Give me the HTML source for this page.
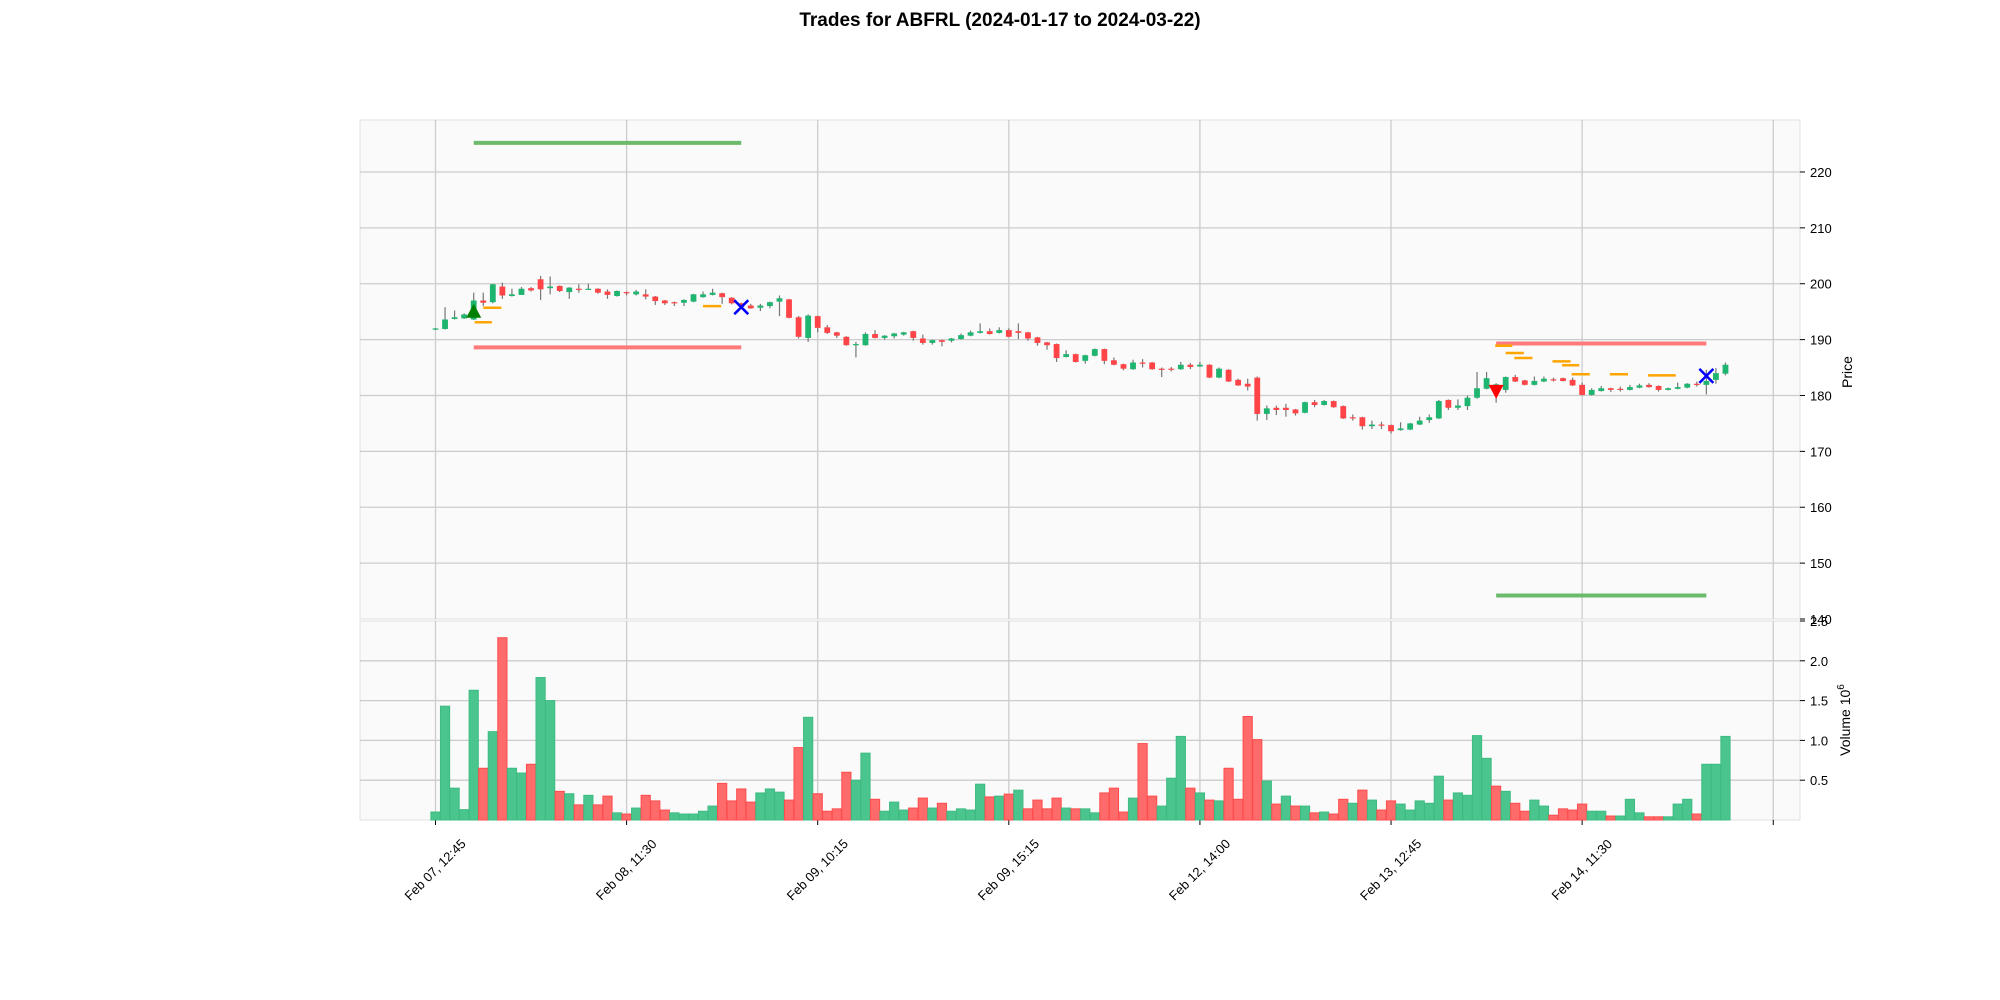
<!DOCTYPE html>
<html><head><meta charset="utf-8"><style>
html,body{margin:0;padding:0;background:#fff;}
svg{display:block;font-family:"Liberation Sans",sans-serif;}
</style></head><body>
<svg id="chart" width="2000" height="1000" viewBox="0 0 2000 1000" xmlns="http://www.w3.org/2000/svg">
<text x="1000" y="26" text-anchor="middle" font-size="19" font-weight="bold" fill="#000">Trades for ABFRL (2024-01-17 to 2024-03-22)</text>
<g id="g"></g>
</svg>
<script>
const opens=[191.8,191.9,193.7,193.8,193.6,197.0,196.7,199.5,197.8,198.0,199.2,200.8,199.2,199.6,198.5,199.1,199.0,199.1,198.6,197.8,198.5,198.1,198.1,197.7,197.0,196.7,196.6,196.8,197.6,198.0,198.3,197.5,196.5,196.1,195.7,196.0,196.8,197.2,194.0,190.3,194.2,192.2,191.3,190.5,189.1,189.0,191.0,190.3,190.6,190.9,191.5,190.2,189.4,189.9,189.8,190.1,190.7,191.2,191.5,191.2,191.7,191.5,191.3,190.4,189.5,189.2,186.9,187.4,186.2,187.1,188.3,186.3,185.6,184.7,185.9,185.9,184.8,184.8,184.7,185.5,185.2,185.5,183.2,184.6,182.8,182.1,183.2,176.7,177.8,177.8,177.5,176.9,178.8,178.3,179.0,178.1,176.1,176.1,174.5,174.8,174.7,173.8,173.9,174.8,175.6,175.9,179.2,177.8,178.1,179.6,181.2,180.5,181.0,183.3,182.7,181.9,182.5,182.9,183.1,182.8,181.9,180.1,180.8,181.3,181.2,181.0,181.4,181.9,181.7,181.0,181.2,181.4,182.1,181.9,182.8,183.9];
const closes=[192.0,193.6,194.0,194.5,197.0,196.6,199.9,197.9,198.1,199.1,198.8,199.0,199.5,198.7,199.3,199.0,199.1,198.4,198.0,198.7,198.4,198.6,197.7,196.9,196.5,196.6,197.1,198.1,198.1,198.4,197.6,196.5,195.9,195.6,196.1,196.7,197.4,193.9,190.5,194.3,192.1,191.2,190.7,189.0,189.2,191.0,190.3,190.7,191.1,191.3,190.3,189.4,189.9,189.6,190.2,190.8,191.3,191.5,191.0,191.7,190.5,191.2,190.2,189.4,189.0,186.7,187.4,186.0,187.2,188.3,186.2,185.5,184.8,185.9,185.8,184.7,184.7,184.7,185.5,185.1,185.5,183.2,184.8,182.5,181.8,181.6,176.7,177.7,177.4,177.4,176.8,178.8,178.3,179.0,177.9,175.9,176.0,174.5,174.8,174.7,173.6,174.1,175.0,175.5,176.1,179.0,177.8,178.2,179.6,181.3,183.1,182.0,183.3,182.5,181.9,182.6,183.0,182.8,182.6,181.8,180.1,181.0,181.3,181.0,181.1,181.5,181.8,181.5,181.0,181.3,181.5,182.1,182.0,182.6,184.0,185.5];
const highs=[192.1,195.8,195.2,194.7,198.4,198.4,200.0,200.2,199.1,199.4,199.4,201.4,201.3,199.7,199.4,199.9,200.0,199.2,199.0,198.8,198.6,198.9,199.0,197.8,197.1,196.8,197.2,198.2,198.6,199.1,198.4,197.6,196.6,196.4,196.4,196.8,197.9,197.3,194.2,194.5,194.3,192.6,191.4,190.6,189.6,191.3,191.7,190.8,191.2,191.4,191.6,190.9,190.0,190.0,190.3,191.1,191.6,192.9,192.0,192.2,192.0,192.9,191.4,190.5,189.6,189.3,188.1,187.5,187.3,188.4,188.4,186.8,185.7,186.4,186.5,186.0,185.0,185.1,186.0,185.8,186.0,185.6,185.0,184.7,183.0,183.0,183.4,178.2,178.2,178.5,177.6,178.9,179.2,179.2,179.1,178.2,176.6,176.2,175.5,175.3,174.8,175.2,175.1,176.2,176.6,179.2,179.3,179.3,180.0,184.2,184.2,182.2,183.4,183.7,182.8,183.4,183.4,183.2,183.2,183.2,182.3,181.3,181.7,181.4,181.6,181.9,182.1,182.2,181.8,181.4,182.3,182.2,182.5,184.6,184.9,185.9];
const lows=[191.7,191.8,193.6,193.7,193.5,196.0,196.5,197.3,197.7,198.0,198.6,197.1,198.1,198.5,197.3,198.4,198.9,198.2,197.3,197.7,197.9,197.9,197.2,196.2,196.2,196.0,196.0,196.7,197.5,197.9,196.4,196.3,195.7,195.5,195.1,195.6,194.2,193.8,190.2,189.6,191.3,191.0,190.3,188.9,186.8,188.9,190.2,190.0,190.2,190.7,189.8,189.1,189.1,188.8,189.5,190.0,190.6,191.1,190.9,191.1,190.4,190.1,189.8,188.9,188.2,186.0,186.8,185.9,185.7,187.0,185.6,185.4,184.5,184.6,185.0,184.6,183.3,184.3,184.6,184.7,185.1,183.1,183.1,182.4,181.7,180.9,175.5,175.6,176.5,176.2,176.4,176.8,177.9,178.2,177.8,175.8,175.5,173.9,174.0,174.0,173.2,173.7,173.8,174.7,175.1,175.8,177.4,177.4,177.4,179.4,181.1,178.7,180.5,182.4,181.8,181.8,182.4,182.5,182.5,181.7,180.0,180.0,180.7,180.6,180.7,180.9,181.3,181.4,180.7,180.9,181.1,181.3,181.6,180.2,182.1,183.6];
const volumes=[0.10,1.43,0.40,0.13,1.63,0.65,1.11,2.29,0.65,0.59,0.70,1.79,1.50,0.36,0.33,0.19,0.31,0.19,0.30,0.09,0.075,0.15,0.31,0.24,0.125,0.09,0.075,0.075,0.11,0.175,0.46,0.24,0.39,0.225,0.34,0.39,0.35,0.25,0.91,1.29,0.33,0.11,0.14,0.60,0.50,0.84,0.26,0.11,0.225,0.125,0.15,0.275,0.15,0.21,0.11,0.14,0.125,0.45,0.29,0.30,0.325,0.375,0.14,0.25,0.14,0.275,0.15,0.14,0.14,0.09,0.34,0.40,0.10,0.275,0.96,0.30,0.175,0.525,1.05,0.40,0.34,0.25,0.24,0.65,0.26,1.30,1.01,0.49,0.20,0.30,0.175,0.175,0.09,0.10,0.075,0.26,0.21,0.375,0.25,0.125,0.24,0.20,0.125,0.24,0.21,0.55,0.25,0.34,0.31,1.06,0.775,0.425,0.36,0.21,0.11,0.25,0.175,0.06,0.14,0.125,0.20,0.11,0.11,0.05,0.05,0.26,0.09,0.04,0.04,0.04,0.20,0.26,0.075,0.70,0.70,1.05];
const tickIdx=[0,20,40,60,80,100,120,140];
const tickLabels=["Feb 07, 12:45","Feb 08, 11:30","Feb 09, 10:15","Feb 09, 15:15","Feb 12, 14:00","Feb 13, 12:45","Feb 14, 11:30",""];
const priceTicks=[140,150,160,170,180,190,200,210,220];
const volTicks=[0.5,1.0,1.5,2.0,2.5];
const buyIdx=[4], buyPrice=[194.8];
const sellIdx=[111], sellPrice=[181.0];
const exitIdx=[32,133], exitPrice=[195.8,183.5];
const tpStart=[4,111], tpEnd=[32,133], tpPrice=[225.2,144.2];
const slStart=[4,111], slEnd=[32,133], slPrice=[188.6,189.3];
const orStart=[4.1,5.0,28.0,110.9,112.0,112.9,116.9,117.9,118.9,122.9,126.9];
const orEnd=[5.9,6.9,29.9,112.7,113.9,114.8,118.8,119.7,120.8,124.8,129.8];
const orPrice=[193.1,195.7,196.0,188.9,187.6,186.7,186.1,185.4,183.8,183.8,183.6];

const NS="http://www.w3.org/2000/svg";
const g=document.getElementById('g');
const X0=360,X1=1800,PY0=120,PY1=619,VY0=621,VY1=820;
const xMin=-7.9,xMax=142.8,pMin=140,pMax=229.3,vMax=2.5;
const xs=i=>X0+(i-xMin)/(xMax-xMin)*(X1-X0);
const py=p=>PY1-(p-pMin)/(pMax-pMin)*(PY1-PY0);
const vy=v=>VY1-v/vMax*(VY1-VY0);
function el(t,a,parent){const e=document.createElementNS(NS,t);for(const k in a)e.setAttribute(k,a[k]);(parent||g).appendChild(e);return e;}

const pp=el('rect',{x:X0,y:PY0,width:X1-X0,height:PY1-PY0,fill:'#fafafa',stroke:'#e0e0e0'});


const vp=el('rect',{x:X0,y:VY0,width:X1-X0,height:VY1-VY0,fill:'#fafafa',stroke:'#e0e0e0'});



tickIdx.forEach((t,k)=>{
  const x=xs(t);
  const l1=el('line',{x1:x,x2:x,y1:PY0,y2:PY1,stroke:'#cccccc','stroke-width':1.3});
  
  
  const l2=el('line',{x1:x,x2:x,y1:VY0,y2:VY1,stroke:'#cccccc','stroke-width':1.3});
  
  
  const tk=el('line',{x1:x,x2:x,y1:VY1,y2:VY1+5,stroke:'#000','stroke-width':1});
  
  
  if(tickLabels[k]){
    const cy=870;
    const tx=el('text',{x:x,y:cy+4,'text-anchor':'middle','font-size':13,fill:'#000',transform:`rotate(-45 ${x} ${cy})`});
    tx.textContent=tickLabels[k];
    
    
  }
});
priceTicks.forEach(p=>{
  const y=py(p);
  if(p>pMin){const l=el('line',{x1:X0,x2:X1,y1:y,y2:y,stroke:'#cccccc','stroke-width':1.3});
  
  }
  el('line',{x1:X1,x2:X1+5,y1:y,y2:y,stroke:'#000'});
  const t=el('text',{x:X1+10,y:y+5,'font-size':13,fill:'#000'});
  t.textContent=p;
  
  
});
volTicks.forEach(v=>{
  const y=vy(v);
  if(v<vMax){const l=el('line',{x1:X0,x2:X1,y1:y,y2:y,stroke:'#cccccc','stroke-width':1.3});
  
  }
  el('line',{x1:X1,x2:X1+5,y1:y,y2:y,stroke:'#000'});
  const t=el('text',{x:X1+10,y:y+5,'font-size':13,fill:'#000'});
  t.textContent=v.toFixed(1);
  
  
});
const yl=el('text',{x:1852,y:372,'font-size':14,'text-anchor':'middle',fill:'#000',transform:'rotate(-90 1852 372)'});
yl.textContent='Price';


const vl=el('text',{x:1850,y:720,'font-size':14,'text-anchor':'middle',fill:'#000',transform:'rotate(-90 1850 720)'});
vl.innerHTML='Volume  10<tspan dy="-6" font-size="10">6</tspan>';



volumes.forEach((v,i)=>{
  const up=i===0?closes[i]>=opens[i]:closes[i]>=closes[i-1];
  const w=9.2,x=xs(i)-w/2;
  const r=el('rect',{x:x,y:vy(v),width:w,height:VY1-vy(v),fill:up?'#4bc58e':'#ff6b6b',stroke:up?'#3dbb82':'#ff4b4b','stroke-width':1});
  
  
});

opens.forEach((o,i)=>{
  const c=closes[i],up=c>=o,x=xs(i);
  const w=el('line',{x1:x,x2:x,y1:py(highs[i]),y2:py(lows[i]),stroke:'#777','stroke-width':1.2});
  
  
  const top=py(Math.max(o,c)),h=Math.max(1.2,Math.abs(py(o)-py(c)));
  const b=el('rect',{x:x-2.9,y:top,width:5.8,height:h,fill:up?'#1db56f':'#ff4447'});
  
  
});

tpStart.forEach((s,k)=>{
  const l=el('line',{x1:xs(s),x2:xs(tpEnd[k]),y1:py(tpPrice[k]),y2:py(tpPrice[k]),stroke:'#6cba6c','stroke-width':4});
  
  
});
slStart.forEach((s,k)=>{
  const l=el('line',{x1:xs(s),x2:xs(slEnd[k]),y1:py(slPrice[k]),y2:py(slPrice[k]),stroke:'#ff7b7b','stroke-width':4});
  
  
});
orStart.forEach((s,k)=>{
  const l=el('line',{x1:xs(s),x2:xs(orEnd[k]),y1:py(orPrice[k]),y2:py(orPrice[k]),stroke:'#ffa500','stroke-width':2.5});
  
  
});

buyIdx.forEach((i,k)=>{
  const x=xs(i),y=py(buyPrice[k]);
  const m=el('polygon',{points:`${x},${y-9} ${x-7.5},${y+5} ${x+7.5},${y+5}`,fill:'#008000'});
  
  
});
sellIdx.forEach((i,k)=>{
  const x=xs(i),y=py(sellPrice[k]);
  const m=el('polygon',{points:`${x},${y+9} ${x-7.5},${y-5} ${x+7.5},${y-5}`,fill:'#ff0000'});
  
  
});
exitIdx.forEach((i,k)=>{
  const x=xs(i),y=py(exitPrice[k]),s=7;
  const m=el('path',{d:`M${x-s},${y-s}L${x+s},${y+s}M${x-s},${y+s}L${x+s},${y-s}`,stroke:'#0000ff','stroke-width':2.5,fill:'none'});
  
  
});
</script>
</body></html>
